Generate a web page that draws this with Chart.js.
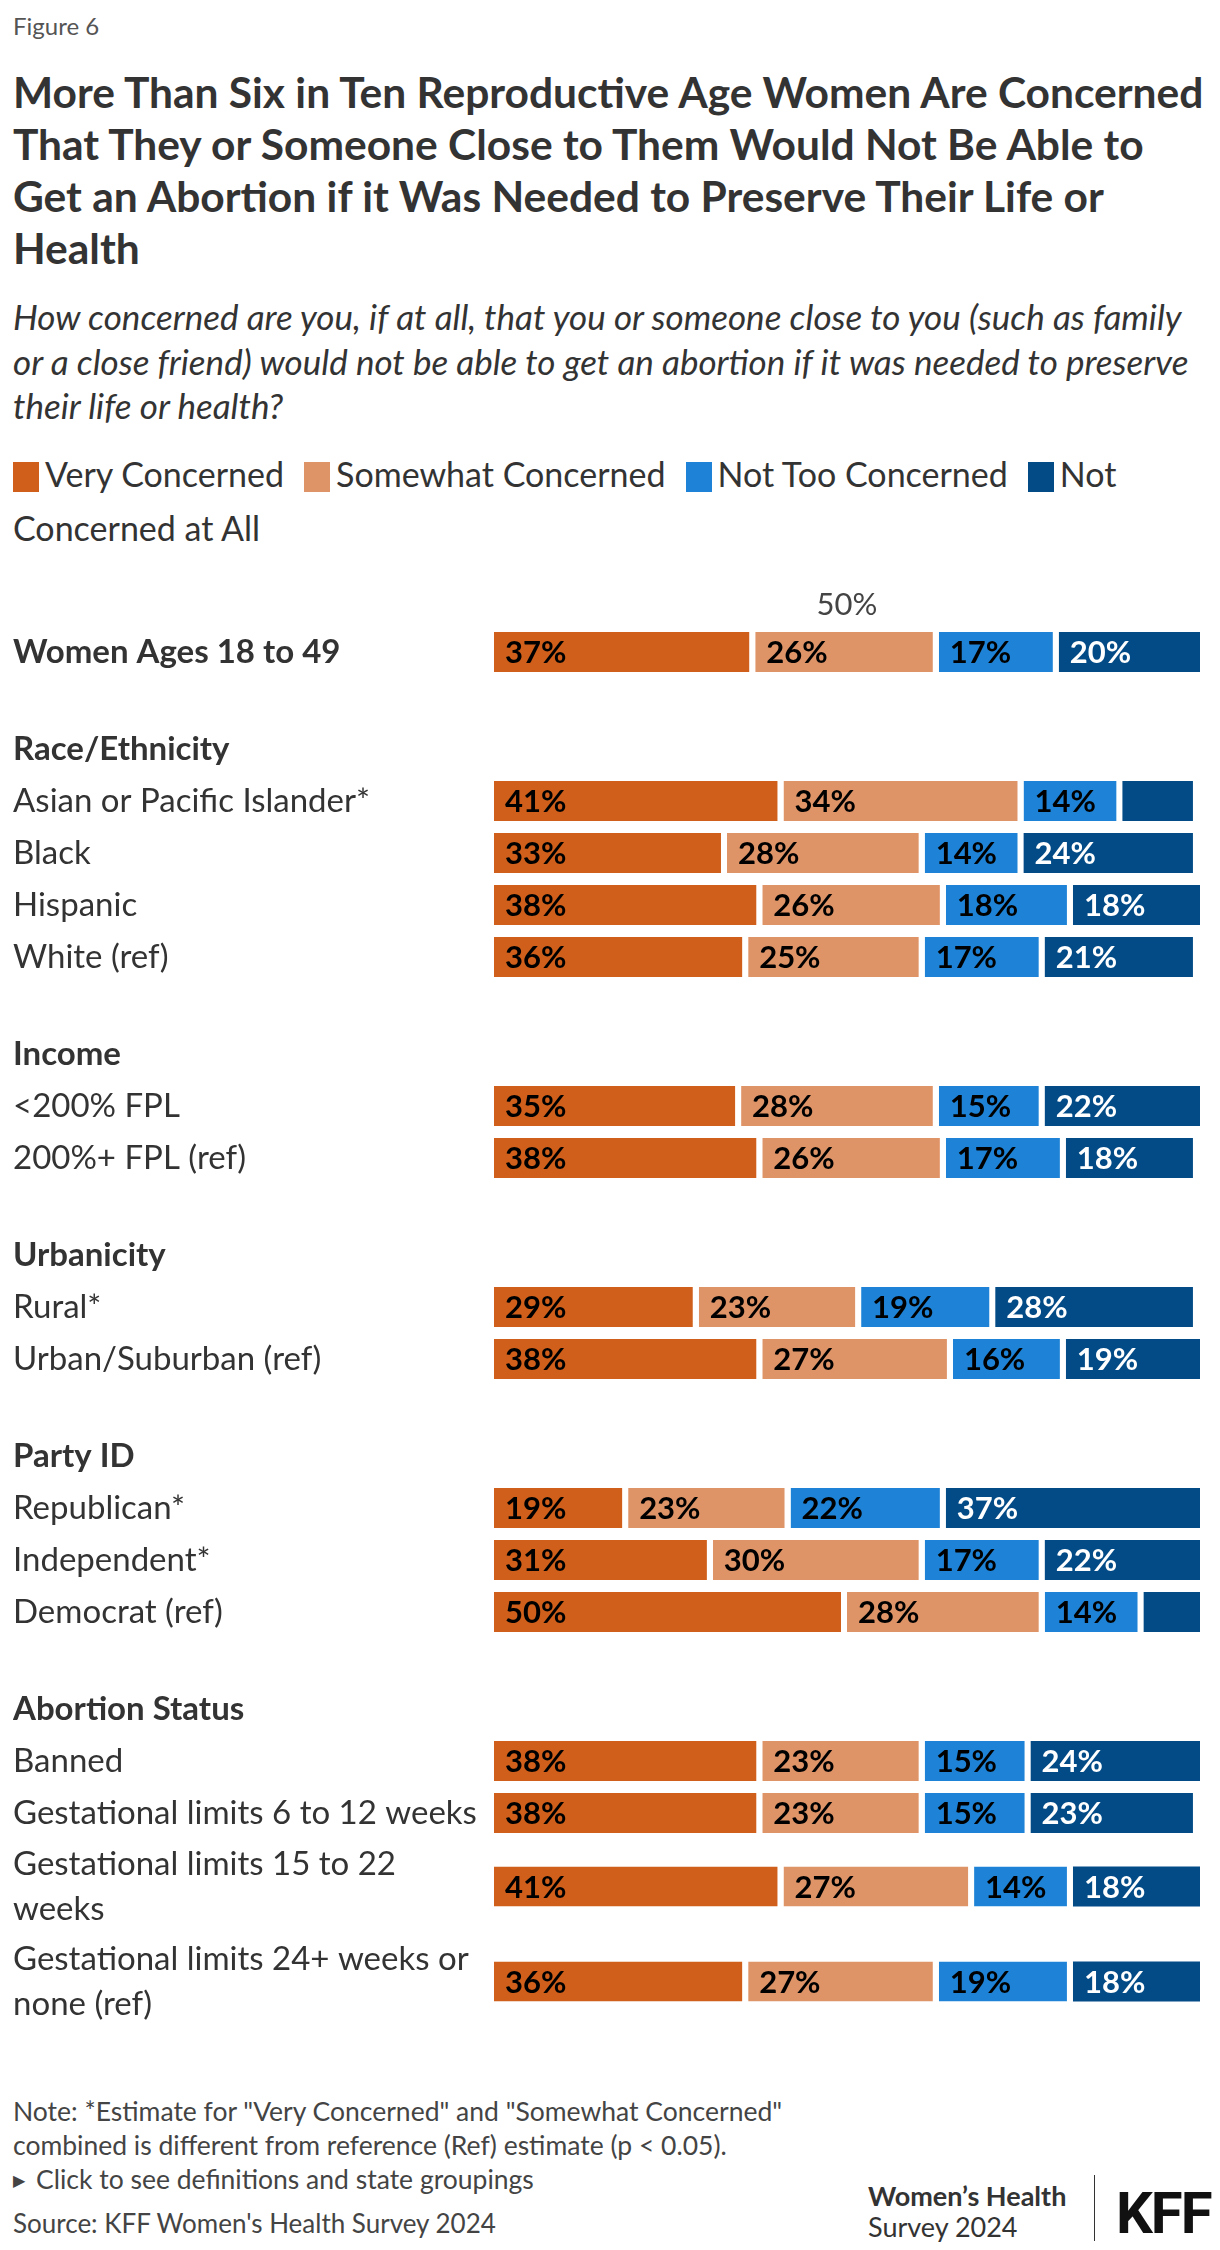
<!DOCTYPE html>
<html>
<head>
<meta charset="utf-8">
<script src="https://cdn.jsdelivr.net/npm/chart.js@4.4.1/dist/chart.umd.min.js"></script>
<style>
  html, body { margin: 0; padding: 0; background: #fff; }
  body { width: 1220px; height: 2250px; position: relative; overflow: hidden;
         font-family: Lato, "Noto Sans", sans-serif; color: #333; }
  .abs { position: absolute; left: 13px; }
  #fig { top: 12px; font-size: 24px; line-height: 28px; color: #555; }
  #title { top: 66px; font-weight: 700; font-size: 42.5px; line-height: 52px; color: #333; }
  #title div { white-space: nowrap; }
  #sub { top: 294px; font-style: italic; font-size: 35px; line-height: 44.5px; color: #333; }
  #sub div { white-space: nowrap; }
  #legend { top: 447px; font-size: 34px; line-height: 54px; width: 1200px; color: #333; }
  .sw { display: inline-block; width: 26px; height: 30px; vertical-align: -5px; margin-right: 6px; }
  .li { margin-right: 20px; }
  #chartWrap { position: absolute; left: 0; top: 560px; width: 1220px; }
  #notes { top: 2094px; font-size: 26.5px; line-height: 34px; color: #444; }
  #source { top: 2206px; font-size: 26px; line-height: 34px; color: #444; }
  #tri { display: inline-block; font-size: 16px; vertical-align: 3px; margin-right: 11px; }
  #whs { position: absolute; left: 868px; top: 2180px; font-size: 27px; line-height: 31px; color: #333; }
  #divider { position: absolute; left: 1094px; top: 2175px; width: 1px; height: 66px; background: #333; }
  #kff { position: absolute; left: 1116px; top: 2177px; font-family: "Liberation Sans Narrow", Roboto, sans-serif;
         font-weight: 700; font-size: 58px; line-height: 72px; color: #111; letter-spacing: -2px; }
</style>
</head>
<body>
<div id="fig" class="abs">Figure 6</div>
<div id="title" class="abs">
  <div>More Than Six in Ten Reproductive Age Women Are Concerned</div>
  <div>That They or Someone Close to Them Would Not Be Able to</div>
  <div>Get an Abortion if it Was Needed to Preserve Their Life or</div>
  <div>Health</div>
</div>
<div id="sub" class="abs">
  <div>How concerned are you, if at all, that you or someone close to you (such as family</div>
  <div>or a close friend) would not be able to get an abortion if it was needed to preserve</div>
  <div>their life or health?</div>
</div>
<div id="legend" class="abs"></div>
<div id="chartWrap"><canvas id="c"></canvas></div>
<div id="notes" class="abs">
  <div>Note: *Estimate for "Very Concerned" and "Somewhat Concerned"</div>
  <div>combined is different from reference (Ref) estimate (p &lt; 0.05).</div>
  <div><span id="tri">&#9654;</span>Click to see definitions and state groupings</div>
</div>
<div id="source" class="abs">Source: KFF Women's Health Survey 2024</div>
<div id="whs"><b>Women’s Health</b><br>Survey 2024</div>
<div id="divider"></div>
<div id="kff">KFF</div>

<script>
// ---------------- DATA ----------------
const categories = [
  'Women Ages 18 to 49',
  'Race/Ethnicity',
  'Asian or Pacific Islander*',
  'Black',
  'Hispanic',
  'White (ref)',
  'Income',
  '<200% FPL',
  '200%+ FPL (ref)',
  'Urbanicity',
  'Rural*',
  'Urban/Suburban (ref)',
  'Party ID',
  'Republican*',
  'Independent*',
  'Democrat (ref)',
  'Abortion Status',
  'Banned',
  'Gestational limits 6 to 12 weeks',
  'Gestational limits 15 to 22 weeks',
  'Gestational limits 24+ weeks or none (ref)'
];
const groupHeaders = ['Race/Ethnicity', 'Income', 'Urbanicity', 'Party ID', 'Abortion Status'];
const boldLabels = ['Women Ages 18 to 49'];

const seriesNames = ['Very Concerned', 'Somewhat Concerned', 'Not Too Concerned', 'Not Concerned at All'];
const veryConcerned     = [37, null, 41, 33, 38, 36, null, 35, 38, null, 29, 38, null, 19, 31, 50, null, 38, 38, 41, 36];
const somewhatConcerned = [26, null, 34, 28, 26, 25, null, 28, 26, null, 23, 27, null, 23, 30, 28, null, 23, 23, 27, 27];
const notTooConcerned   = [17, null, 14, 14, 18, 17, null, 15, 17, null, 19, 16, null, 22, 17, 14, null, 15, 15, 14, 19];
const notAtAll          = [20, null, 10, 24, 18, 21, null, 22, 18, null, 28, 19, null, 37, 22,  8, null, 24, 23, 18, 18];
const xTickValues = [50];

// ---------------- STYLE ----------------
const colors = ['#CF5F1A', '#DF9468', '#1E83D6', '#034B87'];
const labelColors = ['#000', '#000', '#000', '#fff'];
const FONT = 'Lato, "Noto Sans", sans-serif';
const LABEL_SIZE = 33;
const LINE_H = 45;
const MAX_LABEL_W = 472;

// legend (HTML)
const legendEl = document.getElementById('legend');
legendEl.innerHTML = seriesNames.map((n, i) => {
  const txt = (i === 3) ? 'Not<br>Concerned at All' : n;
  return '<span class="li"><span class="sw" style="background:' + colors[i] + '"></span>' + txt + '</span>';
}).join('');

// wrap labels by measured width
const mctx = document.createElement('canvas').getContext('2d');
function wrap(text, bold) {
  mctx.font = (bold ? '700 ' : '400 ') + LABEL_SIZE + 'px ' + FONT;
  const words = text.split(' ');
  const lines = [];
  let cur = '';
  words.forEach(w => {
    const t = cur ? cur + ' ' + w : w;
    if (cur && mctx.measureText(t).width > MAX_LABEL_W) { lines.push(cur); cur = w; }
    else cur = t;
  });
  lines.push(cur);
  return lines;
}
const isHeader = categories.map(c => groupHeaders.includes(c));
const isBold = categories.map((c, i) => isHeader[i] || boldLabels.includes(c));
const wrapped = categories.map((c, i) => wrap(c, isBold[i]));

// row layout: row height from number of label lines, extra gap before group headers
const rowH = wrapped.map(l => l.length * 43 + 9);
const GROUP_GAP = 45;
const rowPos = [];
wrapped.forEach((l, i) => {
  if (i === 0) rowPos.push(0);
  else rowPos.push(rowPos[i - 1] + (rowH[i - 1] + rowH[i]) / 2 + (isHeader[i] ? GROUP_GAP : 0));
});
const yMin = -rowH[0] / 2;
const yMax = rowPos[rowPos.length - 1] + rowH[rowH.length - 1] / 2 + 20;
const X_AXIS_H = 66;
document.getElementById('chartWrap').style.height = (X_AXIS_H + (yMax - yMin)) + 'px';

const allSeries = [veryConcerned, somewhatConcerned, notTooConcerned, notAtAll];
const datasets = allSeries.map((arr, si) => ({
  label: seriesNames[si],
  data: arr.map((v, i) => (v === null ? null : { x: v, y: rowPos[i] })).filter(d => d !== null),
  backgroundColor: colors[si],
  borderColor: '#ffffff',
  borderWidth: si < 3 ? { top: 0, bottom: 0, left: 0, right: 6 } : 0,
  borderSkipped: false,
  barThickness: 40,
  inflateAmount: 0
}));

const valueLabels = {
  id: 'valueLabels',
  afterDatasetsDraw(chart) {
    const ctx = chart.ctx;
    ctx.save();
    ctx.font = '700 31px ' + FONT;
    ctx.textBaseline = 'middle';
    ctx.textAlign = 'left';
    chart.data.datasets.forEach((ds, di) => {
      const meta = chart.getDatasetMeta(di);
      meta.data.forEach((el, i) => {
        const v = ds.data[i].x;
        if (v < 12) return;
        const p = el.getProps(['x', 'y', 'base'], true);
        ctx.fillStyle = labelColors[di];
        ctx.fillText(v + '%', Math.min(p.base, p.x) + 11, p.y + 1);
      });
    });
    ctx.restore();
  }
};

new Chart(document.getElementById('c'), {
  type: 'bar',
  data: { datasets },
  plugins: [valueLabels],
  options: {
    indexAxis: 'y',
    responsive: true,
    maintainAspectRatio: false,
    animation: false,
    layout: { padding: { left: 13, right: 20, top: 0, bottom: 0 } },
    plugins: { legend: { display: false }, tooltip: { enabled: false }, title: { display: false } },
    scales: {
      x: {
        type: 'linear', position: 'top', stacked: true, min: 0, max: 100, z: 1,
        afterBuildTicks: s => { s.ticks = xTickValues.map(v => ({ value: v })); },
        afterFit: s => { s.height = X_AXIS_H; },
        grid: { color: 'rgba(255,255,255,0.6)', lineWidth: 1, drawTicks: false },
        border: { display: false },
        ticks: {
          callback: v => v + '%',
          color: '#444',
          padding: 2,
          font: { family: FONT, size: 31, lineHeight: 1.2 }
        }
      },
      y: {
        type: 'linear', reverse: true, stacked: true, min: yMin, max: yMax, offset: false,
        afterBuildTicks: s => { s.ticks = rowPos.map(v => ({ value: v })); },
        afterFit: s => { s.width = 481; s.paddingTop = 0; s.paddingBottom = 0; },
        grid: { display: false },
        border: { display: false },
        ticks: {
          autoSkip: false,
          crossAlign: 'far',
          padding: 0,
          color: '#333',
          callback: (v, i) => wrapped[i],
          font: ctx => ({ family: FONT, size: LABEL_SIZE, weight: isBold[ctx.index] ? '700' : '400', lineHeight: LINE_H / LABEL_SIZE })
        }
      }
    }
  }
});
</script>
</body>
</html>
